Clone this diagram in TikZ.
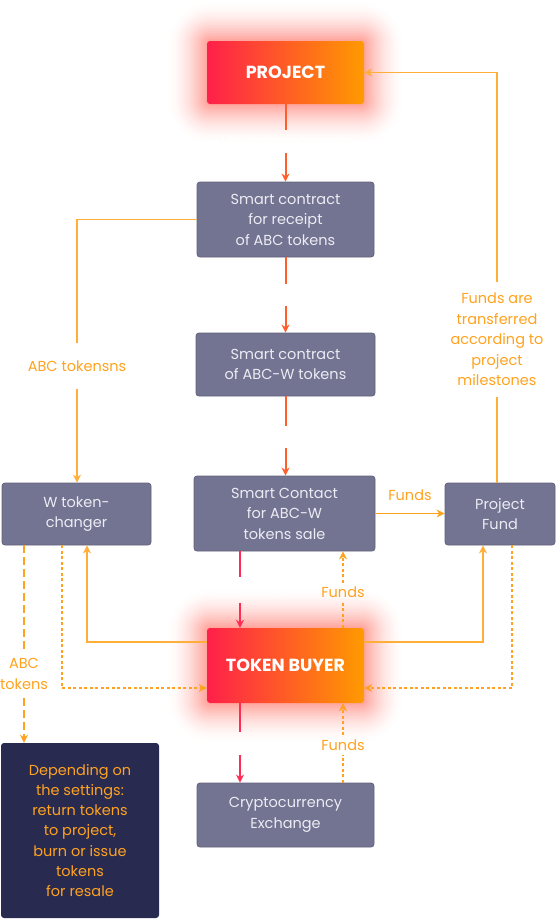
\documentclass[tikz,border=0pt]{standalone}
\usepackage{fontspec}
\setmainfont{Poppins}
\usetikzlibrary{arrows.meta,calc}
\definecolor{boxc}{HTML}{737392}
\definecolor{boxd}{HTML}{62627E}
\definecolor{boxt}{HTML}{ECECF4}
\definecolor{gA}{HTML}{FF2049}
\definecolor{gB}{HTML}{FF9A00}
\definecolor{glowc}{HTML}{FF4A3A}
\definecolor{cred}{HTML}{FF2D55}
\definecolor{corg}{HTML}{FF5F2C}
\definecolor{cyel}{HTML}{FFA21F}
\definecolor{clt}{HTML}{FFAE3A}
\definecolor{darkc}{HTML}{282A50}
\newcommand\myglow[4]{%
  \foreach \i in {24,23,...,1}{%
    \pgfmathsetmacro\rr{3+\i*1.6}%
    \pgfmathsetmacro\pc{52*(1-\i/25)^1.7}%
    \fill[glowc!\pc!white,rounded corners=\rr pt]
      ({#1-\i*1.6},{#2-\i*1.6}) rectangle ({#3+\i*1.6},{#4+\i*1.6});
  }}
\tikzset{
  gbox/.style={rectangle, rounded corners=3pt, fill=boxc, draw=boxd, line width=0.8pt,
    text=boxt, align=center, inner sep=0pt, font=\fontsize{14.5}{20.5}\selectfont},
  hot/.style={rectangle, rounded corners=3pt, left color=gA, right color=gB,
    text=white, inner sep=0pt, font=\fontsize{17.5}{20}\selectfont\bfseries},
  darkbox/.style={rectangle, rounded corners=3pt, fill=darkc, text=cyel, align=center,
    inner sep=0pt, font=\fontsize{14.5}{20.3}\selectfont},
  wl/.style={text=white, inner sep=0pt, font=\fontsize{14}{18}\selectfont},
  ol/.style={text=cyel, inner sep=0pt, align=center, font=\fontsize{14.5}{20.5}\selectfont},
  arr/.style={-{Stealth[length=8pt,width=8pt,inset=2.5pt]}},
  lm/.style={line width=2pt},
  lt/.style={line width=1.6pt},
  dot/.style={line width=2pt, dash pattern=on 3pt off 2.5pt},
  dsh/.style={line width=2.4pt, dash pattern=on 8pt off 4pt}
}
\begin{document}
\begin{tikzpicture}[x=1pt,y=-1pt]
\useasboundingbox (0,0) rectangle (556,919);
\myglow{207}{41}{364}{104}
\myglow{207}{628}{364}{703}

\node[hot, minimum width=157pt, minimum height=63pt] (proj) at (285.5,72.5) {PROJECT};
\node[gbox, minimum width=177pt, minimum height=75pt] (rc) at (285.5,219.5) {Smart contract\\for receipt\\of ABC tokens};
\node[gbox, minimum width=179pt, minimum height=63pt] (aw) at (285.5,364.5) {Smart contract\\of ABC-W tokens};
\node[gbox, minimum width=181pt, minimum height=75pt] (sale) at (284.5,513.5) {Smart Contact\\for ABC-W\\tokens sale};
\node[gbox, minimum width=149pt, minimum height=62pt] (wtc) at (76.5,514) {W token-\\changer};
\node[gbox, minimum width=110pt, minimum height=62pt] (pf) at (500,514) {Project\\Fund};
\node[hot, minimum width=157pt, minimum height=75pt] (tb) at (285.5,665.5) {TOKEN BUYER};
\node[gbox, minimum width=177pt, minimum height=64pt] (ex) at (285.5,815) {Cryptocurrency\\Exchange};
\node[darkbox, minimum width=158pt, minimum height=175pt] (dk) at (80,830.5) {Depending on\\the settings:\\return tokens\\to project,\\burn or issue\\tokens\\for resale};

\node[wl, minimum height=23pt] (l1) at (285.5,141.5) {ABC tokens for sale};
\node[wl, minimum height=26pt] (l2) at (240,590) {ABC-W tokens};
\node[wl, minimum height=23pt] (l3) at (240,743.5) {ABC tokens};
\node[ol, minimum height=19pt] (f1) at (343,592.5) {Funds};
\node[ol, minimum height=19pt] (f2) at (343,745) {Funds};
\node[ol] (fnd) at (410,495) {Funds};
\node[ol, minimum height=46pt] (at) at (77,366) {ABC tokensns};
\node[ol, minimum height=115pt] (fm) at (497,339.5) {Funds are\\transferred\\according to\\project\\milestones};
\node[ol, minimum height=48pt] (at2) at (24,674) {ABC\\tokens};
\node[minimum height=22pt, inner sep=0pt] (g1) at (285.5,295) {};
\node[minimum height=22pt, inner sep=0pt] (g2) at (285.5,437) {};

\draw[corg, lm] (proj.south) -- (l1.north);
\draw[corg, lm, arr] (l1.south) -- (rc.north);
\draw[corg, lm] (rc.south) -- (g1.north);
\draw[corg, lm, arr] (g1.south) -- (aw.north);
\draw[corg, lm] (aw.south) -- (g2.north);
\draw[corg, lm, arr] (g2.south) -- (g2.south |- sale.north);
\draw[clt, lt] (rc.west) -| (at.north);
\draw[clt, lt, arr] (at.south) -- (at.south |- wtc.north);
\draw[cyel, lt, arr] (sale.east) -- (sale.east -| pf.west);
\draw[clt, lt] (fm.south |- pf.north) -- (fm.south);
\draw[clt, lt, arr] (fm.north) |- (proj.east);
\draw[cred, lm] ([xshift=-44.5pt]sale.south) -- (l2.north);
\draw[cred, lm, arr] (l2.south) -- (l2.south |- tb.north);
\draw[cyel, dot] (f1.south |- tb.north) -- (f1.south);
\draw[cyel, dot, arr] (f1.north) -- (f1.north |- sale.south);
\draw[cred, lm] (l3.north |- tb.south) -- (l3.north);
\draw[cred, lm, arr] (l3.south) -- (l3.south |- ex.north);
\draw[cyel, dot] (f2.south |- ex.north) -- (f2.south);
\draw[cyel, dot, arr] (f2.north) -- (f2.north |- tb.south);
\draw[clt, lt, arr] ([yshift=23.5pt]tb.west) -| ([xshift=10.5pt]wtc.south);
\draw[clt, lt, arr] ([yshift=23.5pt]tb.east) -| ([xshift=-17pt]pf.south);
\draw[cyel, dot, arr] ([xshift=-14.5pt]wtc.south) |- ([yshift=-22.5pt]tb.west);
\draw[cyel, dot, arr] ([xshift=12pt]pf.south) |- ([yshift=-22.5pt]tb.east);
\draw[cyel, dsh] ([xshift=-52.5pt]wtc.south) -- (at2.north);
\draw[cyel, dsh, arr] (at2.south) -- (at2.south |- dk.north);
\end{tikzpicture}
\end{document}
